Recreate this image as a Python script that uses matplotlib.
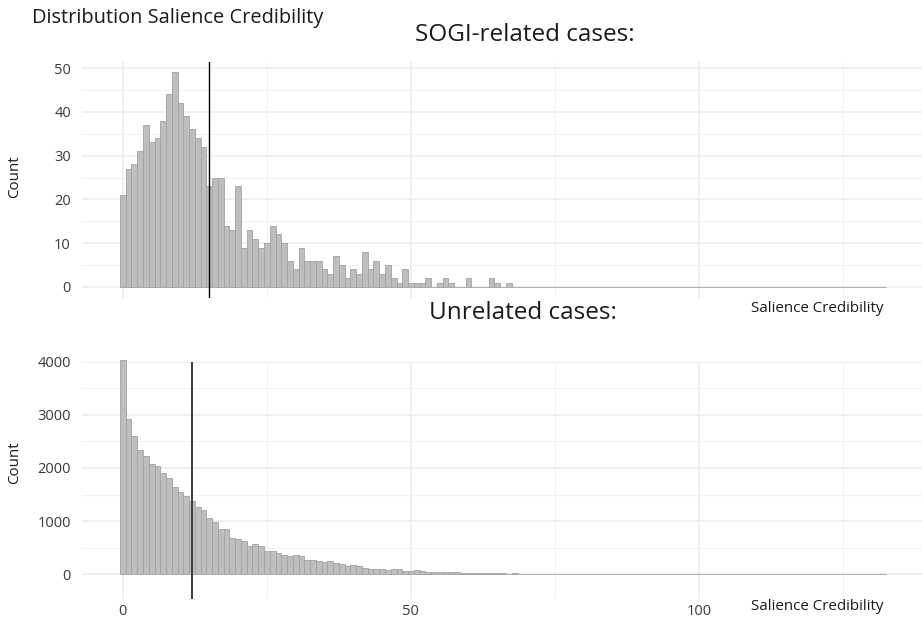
import numpy as np
import matplotlib
matplotlib.use("Agg")
import matplotlib.pyplot as plt
from matplotlib.ticker import MultipleLocator

plt.rcParams['font.family'] = ['Open Sans', 'DejaVu Sans']

# ---- data ----
title = "Distribution Salience Credibility"
panel_titles = ["SOGI-related cases:", "Unrelated cases:"]
x_label = "Salience Credibility"
y_label = "Count"

sogi_counts = [21, 27, 28, 31, 37, 33, 34, 38, 44, 49, 42, 39, 36, 34, 32, 23, 25, 25,
               14, 13, 23, 9, 13, 11, 9, 10, 14, 12, 10, 6, 4, 9, 6, 6, 6, 4, 3, 7, 5,
               2, 4, 3, 8, 4, 6, 3, 5, 2, 1, 4, 1, 1, 1, 2, 0, 1, 2, 1, 0, 0, 2, 0, 0,
               0, 2, 1, 0, 1]
sogi_counts = sogi_counts + [0] * (133 - len(sogi_counts))

unrel_counts = [4030, 2910, 2600, 2335, 2230, 2080, 2030, 1900, 1815, 1650, 1545, 1470,
                1370, 1260, 1215, 1060, 990, 860, 860, 690, 655, 630, 540, 570, 540,
                445, 445, 405, 355, 350, 370, 340, 275, 270, 257, 238, 244, 213, 194,
                163, 182, 163, 125, 106, 106, 100, 88, 106, 94, 69, 63, 88, 56, 44, 44,
                44, 44, 44, 44, 31, 31, 25, 25, 25, 31, 19,
                20, 15, 18, 12, 14, 10, 12, 9, 8, 10, 6, 7, 8, 5, 6, 5, 6, 4, 5, 3, 4,
                5, 3, 3, 4, 2, 3, 2, 3, 2, 2, 1, 2, 2, 1, 1, 2, 1, 1, 1, 1, 4, 1, 1, 0,
                1, 1, 4, 1, 0, 1, 1, 0, 1, 1, 0, 1, 1, 0, 1, 0, 1, 1, 3]
unrel_counts = unrel_counts + [0] * (133 - len(unrel_counts))

bins = np.arange(133)
sogi_mean = 15.0
unrel_mean = 12.0

x_major = [0, 50, 100]

# ---- layout ----
W, H = 922, 621
fig = plt.figure(figsize=(W / 100, H / 100), dpi=100)

def fx(px):
    return px / W

def fy(py):
    return 1 - py / H

left, right = fx(82), 1.0
ax1 = fig.add_axes([left, fy(297.7), right - left, fy(61.7) - fy(297.7)])
ax2 = fig.add_axes([left, fy(598.5), right - left, fy(361.5) - fy(598.5)])

bar_fill = '#bebebe'
bar_edge = '#a2a2a2'
grid_major = '#ebebeb'
grid_minor = '#f2f2f2'
txt = '#3a3a3a'

for ax, counts, ylim, ymaj, ymin_ in [
        (ax1, sogi_counts, (-2.45, 51.45), 10, 5),
        (ax2, unrel_counts, (-454, 3993), 1000, 500)]:
    ax.bar(bins, counts, width=1.0, color=bar_fill, edgecolor=bar_edge,
           linewidth=0.6, zorder=2, clip_on=False)
    ax.set_xlim(-7.09, 138.7)
    ax.set_ylim(*ylim)
    ax.xaxis.set_major_locator(MultipleLocator(50))
    ax.xaxis.set_minor_locator(MultipleLocator(25))
    ax.yaxis.set_major_locator(MultipleLocator(ymaj))
    ax.yaxis.set_minor_locator(MultipleLocator(ymin_))
    ax.grid(True, which='major', color=grid_major, linewidth=1.1, zorder=0)
    ax.grid(True, which='minor', color=grid_minor, linewidth=0.8, zorder=0)
    ax.set_axisbelow(True)
    for s in ax.spines.values():
        s.set_visible(False)
    ax.tick_params(which='both', length=0, labelsize=10.5, labelcolor=txt)
    ax.tick_params(axis='y', pad=8)
    ax.tick_params(axis='x', pad=4)
    ax.set_facecolor('white')

ax1.tick_params(axis='x', labelbottom=False)
ax1.set_yticks([0, 10, 20, 30, 40, 50])
ax2.set_yticks([0, 1000, 2000, 3000, 4000])
ax2.set_xticks(x_major)

ax1.axvline(sogi_mean, color='black', linewidth=1.0, zorder=3)
ax2.axvline(unrel_mean, color='#3c3c3c', linewidth=1.4, zorder=3)

# ---- text ----
fig.text(fx(32), fy(18), title, fontsize=14.4, color='#1a1a1a', ha='left', va='center')
fig.text(fx(525), fy(35), panel_titles[0], fontsize=17.5, color='#1a1a1a', ha='center', va='center')
fig.text(fx(523), fy(313), panel_titles[1], fontsize=17.5, color='#1a1a1a', ha='center', va='center')
fig.text(fx(883), fy(309), x_label, fontsize=10.9, color='#1a1a1a', ha='right', va='center')
fig.text(fx(883), fy(606), x_label, fontsize=10.9, color='#1a1a1a', ha='right', va='center')
fig.text(fx(15), fy(177), y_label, fontsize=10.9, color='#1a1a1a', ha='center', va='center', rotation=90)
fig.text(fx(15), fy(463), y_label, fontsize=10.9, color='#1a1a1a', ha='center', va='center', rotation=90)

fig.savefig('out.png', dpi=100, facecolor='white')
